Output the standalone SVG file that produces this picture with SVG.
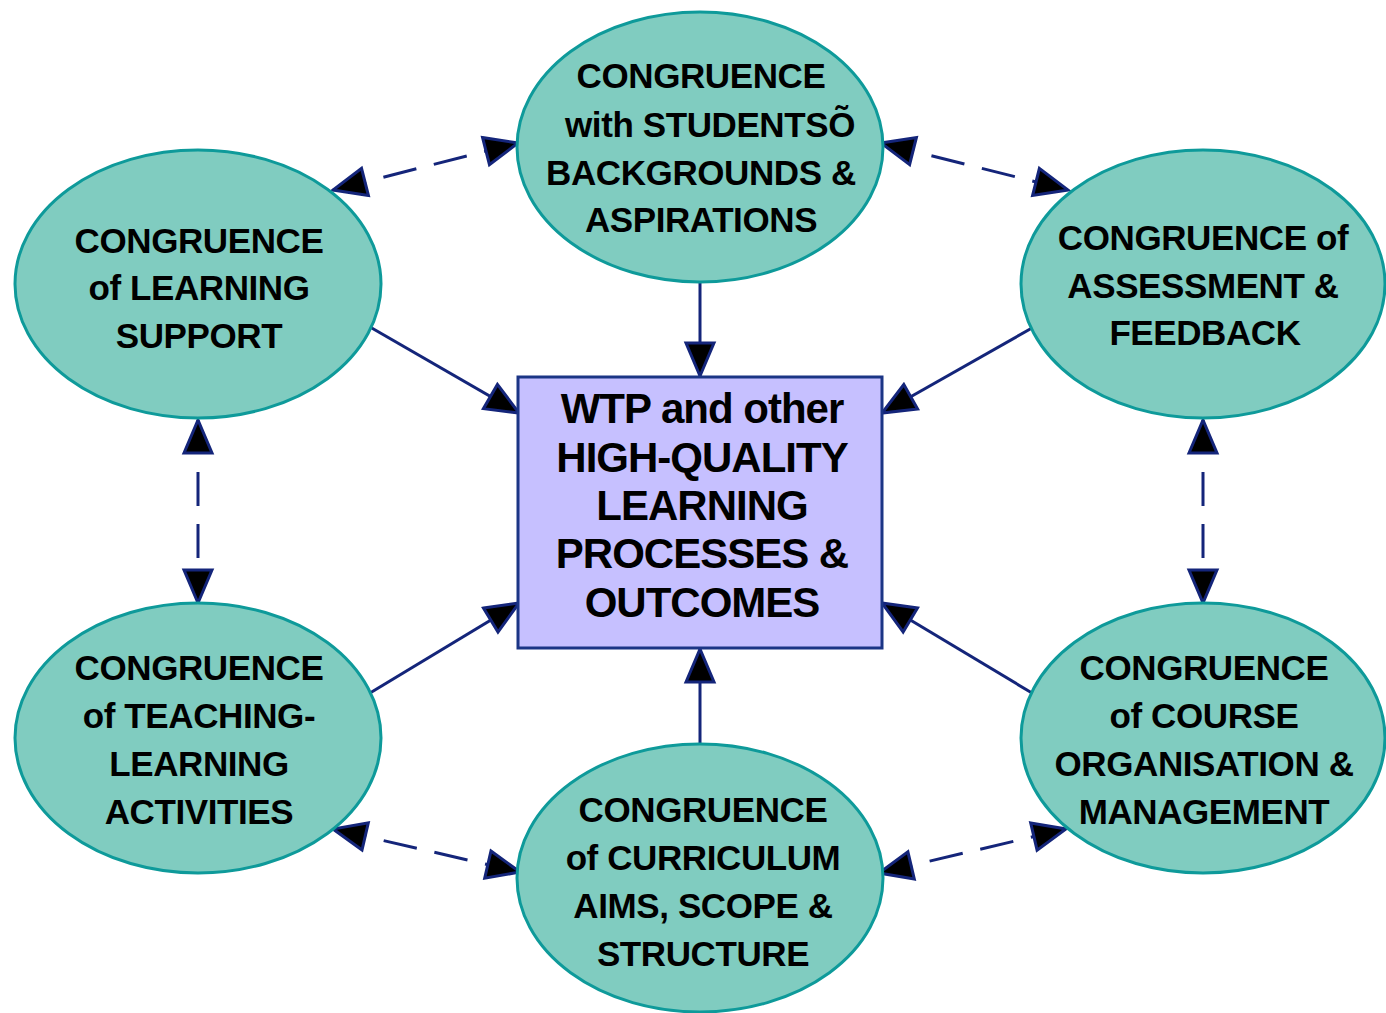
<svg xmlns="http://www.w3.org/2000/svg" width="1386" height="1013" viewBox="0 0 1386 1013">
  <style>
    .node ellipse { fill: #80CCC0; stroke: #0E9A9A; stroke-width: 3; }
    .hub rect { fill: #C6C0FF; stroke: #1B3585; stroke-width: 3; }
    text { font-family: "Liberation Sans", Arial, sans-serif; font-weight: bold; fill: #000; text-anchor: middle; }
    .lbl { font-size: 35px; letter-spacing: -0.4px; }
    .hubtxt { font-size: 42px; letter-spacing: -1px; }
    .link { stroke: #14257A; stroke-width: 3; fill: none; }
    .dash { stroke-dasharray: 34 18; }
  </style>
  <defs>
    <marker id="head" markerUnits="userSpaceOnUse" markerWidth="44" markerHeight="36" refX="36" refY="16" orient="auto-start-reverse" overflow="visible">
      <path d="M3,2 L36,16 L3,30 Z" fill="#000" stroke="#14257A" stroke-width="3" stroke-linejoin="miter" stroke-dasharray="none"/>
    </marker>
  </defs>

  <!-- connectors -->
  <g id="connectors">
    <!-- solid arrows into the central box -->
    <line class="link" x1="700" y1="282" x2="700" y2="376" marker-end="url(#head)"/>
    <line class="link" x1="370" y1="327" x2="519" y2="413" marker-end="url(#head)"/>
    <line class="link" x1="1032" y1="328" x2="882" y2="413" marker-end="url(#head)"/>
    <line class="link" x1="370" y1="693" x2="519" y2="603" marker-end="url(#head)"/>
    <line class="link" x1="1032" y1="693" x2="882" y2="603" marker-end="url(#head)"/>
    <line class="link" x1="700" y1="744" x2="700" y2="649" marker-end="url(#head)"/>
    <!-- dashed two-way links around the ring -->
    <line class="link dash" x1="333" y1="190" x2="518" y2="143" marker-start="url(#head)" marker-end="url(#head)"/>
    <line class="link dash" x1="881" y1="143" x2="1068" y2="190" marker-start="url(#head)" marker-end="url(#head)"/>
    <line class="link dash" x1="198" y1="420" x2="198" y2="603" marker-start="url(#head)" marker-end="url(#head)"/>
    <line class="link dash" x1="1203" y1="420" x2="1203" y2="603" marker-start="url(#head)" marker-end="url(#head)"/>
    <line class="link dash" x1="333" y1="829" x2="520" y2="872" marker-start="url(#head)" marker-end="url(#head)"/>
    <line class="link dash" x1="879" y1="873" x2="1066" y2="829" marker-start="url(#head)" marker-end="url(#head)"/>
  </g>

  <!-- central box -->
  <g id="hub" class="hub">
    <rect x="518" y="377" width="364" height="271"/>
    <text class="hubtxt" x="702" y="423">WTP and other</text>
    <text class="hubtxt" x="702" y="472">HIGH-QUALITY</text>
    <text class="hubtxt" x="702" y="520">LEARNING</text>
    <text class="hubtxt" x="702" y="568">PROCESSES &amp;</text>
    <text class="hubtxt" x="702" y="617">OUTCOMES</text>
  </g>

  <g id="students" class="node">
    <ellipse cx="700" cy="147" rx="183" ry="135"/>
    <text class="lbl" x="701" y="88">CONGRUENCE</text>
    <text class="lbl" x="710" y="137">with STUDENTSÕ</text>
    <text class="lbl" x="701" y="185">BACKGROUNDS &amp;</text>
    <text class="lbl" x="701" y="232">ASPIRATIONS</text>
  </g>

  <g id="support" class="node">
    <ellipse cx="198" cy="284" rx="183" ry="134"/>
    <text class="lbl" x="199" y="253">CONGRUENCE</text>
    <text class="lbl" x="199" y="300">of LEARNING</text>
    <text class="lbl" x="199" y="348">SUPPORT</text>
  </g>

  <g id="assessment" class="node">
    <ellipse cx="1203" cy="284" rx="182" ry="134"/>
    <text class="lbl" x="1203" y="250">CONGRUENCE of</text>
    <text class="lbl" x="1203" y="298">ASSESSMENT &amp;</text>
    <text class="lbl" x="1205" y="345">FEEDBACK</text>
  </g>

  <g id="teaching" class="node">
    <ellipse cx="198" cy="738" rx="183" ry="135"/>
    <text class="lbl" x="199" y="680">CONGRUENCE</text>
    <text class="lbl" x="199" y="728">of TEACHING-</text>
    <text class="lbl" x="199" y="776">LEARNING</text>
    <text class="lbl" x="199" y="824">ACTIVITIES</text>
  </g>

  <g id="organisation" class="node">
    <ellipse cx="1203" cy="738" rx="182" ry="135"/>
    <text class="lbl" x="1204" y="680">CONGRUENCE</text>
    <text class="lbl" x="1204" y="728">of COURSE</text>
    <text class="lbl" x="1204" y="776">ORGANISATION &amp;</text>
    <text class="lbl" x="1204" y="824">MANAGEMENT</text>
  </g>

  <g id="curriculum" class="node">
    <ellipse cx="700" cy="878" rx="183" ry="134"/>
    <text class="lbl" x="703" y="822">CONGRUENCE</text>
    <text class="lbl" x="703" y="870">of CURRICULUM</text>
    <text class="lbl" x="703" y="918">AIMS, SCOPE &amp;</text>
    <text class="lbl" x="703" y="966">STRUCTURE</text>
  </g>
</svg>
